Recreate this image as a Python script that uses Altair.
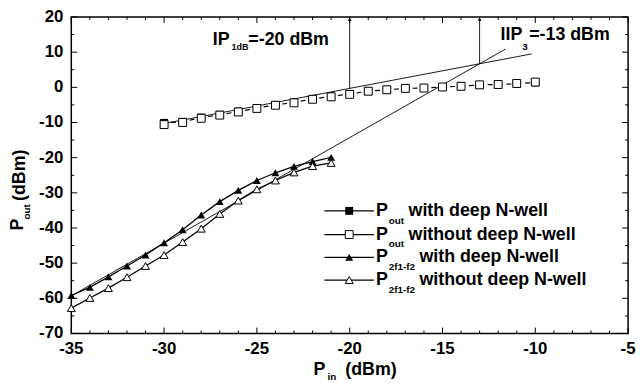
import altair as alt
import pandas as pd

# ---------------- data ----------------
pin_sq = list(range(-30, -9))  # -30 .. -10
pout_with = [-10.1, -9.8, -8.6, -7.8, -6.9, -5.9, -5.0, -4.3, -3.3, -2.6, -1.9,
             -1.1, -0.7, -0.3, -0.2, 0.1, 0.3, 0.7, 0.8, 1.0, 1.4]
pout_without = [-10.6, -10.0, -8.8, -7.9, -7.0, -6.0, -5.1, -4.4, -3.4, -2.7, -2.0,
                -1.1, -0.7, -0.3, -0.2, 0.1, 0.3, 0.7, 0.8, 1.1, 1.5]

pin_tri = list(range(-35, -20))  # -35 .. -21
p3_with = [-59.2, -56.9, -53.9, -50.8, -47.7, -44.2, -40.5, -36.3, -32.5, -29.3,
           -26.5, -24.3, -22.5, -21.1, -19.9]
p3_without = [-62.8, -59.9, -57.1, -54.0, -50.8, -47.7, -44.0, -40.2, -36.0, -32.2,
              -29.0, -26.5, -24.2, -22.4, -21.5]

fund_line_x = [-30.0, -10.2]
fund_line_y = [-10.3, 9.5]
im3_line_x = [-35.0, -11.6]
im3_line_y = [-59.3, 10.9]

arrow_x = [-20, -13]
arrow_lo = [-0.3, 6.7]
arrow_hi = [19.3, 19.3]

x_major = [-35, -30, -25, -20, -15, -10, -5]
x_minor = [v for v in range(-35, -4) if v % 5 != 0]
y_major = [-70, -60, -50, -40, -30, -20, -10, 0, 10, 20]
y_minor = [v for v in range(-65, 20, 10)]

W, H = 563, 320
FONT = "Liberation Sans"

xs = alt.Scale(domain=[-35, -5], nice=False, zero=False)
ys = alt.Scale(domain=[-70, 20], nice=False, zero=False)


def X(f):
    return alt.X(f, type="quantitative", scale=xs, axis=None, title=None)


def Y(f):
    return alt.Y(f, type="quantitative", scale=ys, axis=None, title=None)


sq = pd.DataFrame({"x": pin_sq, "w": pout_with, "wo": pout_without})
tri = pd.DataFrame({"x": pin_tri, "w": p3_with, "wo": p3_without})

layers = []

# ---- ticks (inward, all four sides) ----
dxm = pd.DataFrame({"v": x_major, "lab": [str(v) for v in x_major]})
dxn = pd.DataFrame({"v": x_minor})
dym = pd.DataFrame({"v": y_major, "lab": [str(v) for v in y_major]})
dyn = pd.DataFrame({"v": y_minor})
for d, L in ((dxm, 6), (dxn, 3)):
    layers.append(alt.Chart(d).mark_rule(color="black", strokeWidth=1).encode(
        x=X("v"), y=alt.value(H), y2=alt.value(H - L)))
    layers.append(alt.Chart(d).mark_rule(color="black", strokeWidth=1).encode(
        x=X("v"), y=alt.value(0), y2=alt.value(L)))
for d, L in ((dym, 6), (dyn, 3)):
    layers.append(alt.Chart(d).mark_rule(color="black", strokeWidth=1).encode(
        y=Y("v"), x=alt.value(0), x2=alt.value(L)))
    layers.append(alt.Chart(d).mark_rule(color="black", strokeWidth=1).encode(
        y=Y("v"), x=alt.value(W), x2=alt.value(W - L)))

# ---- tick labels ----
layers.append(alt.Chart(dxm).mark_text(font=FONT, fontWeight="bold", fontSize=17,
                                       color="black", align="center", baseline="middle").encode(
    x=X("v"), y=alt.value(H + 16), text="lab:N"))
layers.append(alt.Chart(dym).mark_text(font=FONT, fontWeight="bold", fontSize=17,
                                       color="black", align="right", baseline="middle").encode(
    y=Y("v"), x=alt.value(-8), text="lab:N"))

# ---- extrapolation lines ----
fl = pd.DataFrame({"x": fund_line_x, "y": fund_line_y})
il = pd.DataFrame({"x": im3_line_x, "y": im3_line_y})
layers.append(alt.Chart(fl).mark_line(color="black", strokeWidth=0.9).encode(x=X("x"), y=Y("y")))
layers.append(alt.Chart(il).mark_line(color="black", strokeWidth=0.9).encode(x=X("x"), y=Y("y")))

# ---- arrows ----
ar = pd.DataFrame({"x": arrow_x, "lo": arrow_lo, "hi": arrow_hi})
layers.append(alt.Chart(ar).mark_rule(color="black", strokeWidth=0.9).encode(
    x=X("x"), y=Y("lo"), y2="hi"))
layers.append(alt.Chart(ar).mark_point(shape="triangle-up", filled=True, color="black",
                                       size=14, opacity=1).encode(x=X("x"), y=Y("hi")))

# ---- data series ----
dash = [0, 7, 5, 7]
layers.append(alt.Chart(sq).mark_line(color="black", strokeWidth=1.2, strokeDash=dash).encode(
    x=X("x"), y=Y("w")))
layers.append(alt.Chart(sq).mark_point(shape="square", filled=True, color="black",
                                       size=64, opacity=1).encode(x=X("x"), y=Y("w")))
layers.append(alt.Chart(sq).mark_point(shape="square", filled=True, fill="white",
                                       stroke="black", strokeWidth=1, size=64,
                                       opacity=1).encode(x=X("x"), y=Y("wo")))

layers.append(alt.Chart(tri).mark_line(color="black", strokeWidth=1.3).encode(
    x=X("x"), y=Y("w")))
layers.append(alt.Chart(tri).mark_point(shape="triangle-up", filled=True, color="black",
                                        size=64, opacity=1).encode(x=X("x"), y=Y("w")))
layers.append(alt.Chart(tri).mark_line(color="black", strokeWidth=1.3).encode(
    x=X("x"), y=Y("wo")))
layers.append(alt.Chart(tri).mark_point(shape="triangle-up", filled=True, fill="white",
                                        stroke="black", strokeWidth=1, size=64,
                                        opacity=1).encode(x=X("x"), y=Y("wo")))

one = pd.DataFrame({"a": [0]})


def txt(s, x, y, size=18, angle=0, align="left", baseline="middle"):
    return alt.Chart(one).mark_text(text=s, font=FONT, fontWeight="bold", fontSize=size,
                                    color="black", align=align, baseline=baseline,
                                    angle=angle).encode(x=alt.value(x), y=alt.value(y))


# ---- legend ----
leg_rows = [
    ("out", "with deep N-well", "square", True),
    ("out", "without deep N-well", "square", False),
    ("2f1-f2", "with deep N-well", "triangle-up", True),
    ("2f1-f2", "without deep N-well", "triangle-up", False),
]
row_y = [196, 220, 243, 266]
for (sub, label, shape, filled), yy in zip(leg_rows, row_y):
    layers.append(alt.Chart(one).mark_rule(color="black", strokeWidth=1.2).encode(
        x=alt.value(256), x2=alt.value(306), y=alt.value(yy)))
    if filled:
        m = alt.Chart(one).mark_point(shape=shape, filled=True, color="black", size=64, opacity=1)
    else:
        m = alt.Chart(one).mark_point(shape=shape, filled=True, fill="white", stroke="black",
                                      strokeWidth=1, size=64, opacity=1)
    layers.append(m.encode(x=alt.value(281), y=alt.value(yy)))
    layers.append(txt("P", 308, yy))
    layers.append(txt(sub, 321, yy + 10, size=10))
    layers.append(txt(label, 341 if sub == "out" else 352, yy))

# ---- annotations ----
layers.append(txt("IP", 143, 23))
layers.append(txt("1dB", 162, 30, size=9))
layers.append(txt("=-20 dBm", 179, 23))
layers.append(txt("IIP", 434, 18))
layers.append(txt("3", 456, 30, size=10))
layers.append(txt("=-13 dBm", 463, 18))

# ---- axis titles ----
layers.append(txt("P", 245, 357))
layers.append(txt("in", 259, 364, size=10))
layers.append(txt("(dBm)", 277, 357))
layers.append(txt("P", -54, 210, angle=270, align="center"))
layers.append(txt("out", -45, 197, size=10, angle=270, align="center"))
layers.append(txt("(dBm)", -52, 160, angle=270, align="center"))

chart = alt.layer(*layers).properties(
    width=W, height=H,
    autosize=alt.AutoSizeParams(type="none"),
    padding={"left": 64, "top": 7, "right": 8, "bottom": 50},
    background="white",
).configure_view(stroke="black", strokeWidth=1.5)

chart.save("out.html", embed_options={"renderer": "svg", "actions": False})
